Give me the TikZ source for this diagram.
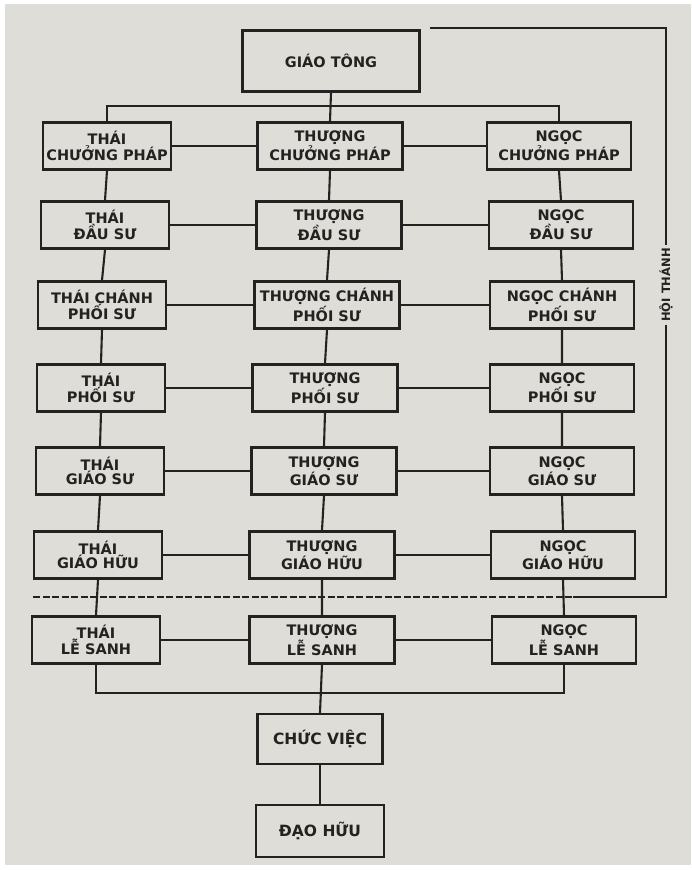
\documentclass[tikz,border=0pt]{standalone}
\usepackage{fontspec}
\setmainfont{DejaVu Sans}
\usetikzlibrary{positioning}
\definecolor{paper}{RGB}{223,221,216}
\definecolor{ink}{RGB}{36,34,32}

\begin{document}
\begin{tikzpicture}[x=1pt, y=-1pt,
      font=\fontsize{14.5}{13.5}\selectfont\bfseries,
      box/.style={draw=ink, text=ink, line width=2.4pt, align=center,
        inner sep=2pt, minimum height=47pt},
      thai/.style={box, minimum width=128pt},
      thuong/.style={box, minimum width=145pt},
      ngoc/.style={box, minimum width=144pt},
      big/.style={box, font=\fontsize{15.5}{16}\selectfont\bfseries},
      link/.style={draw=ink, line width=2.1pt},
      divider/.style={link, line width=1.8pt, dash pattern=on 7pt off 2.5pt}
    ]
    \fill[white] (0,0) rectangle (691,870);
    \fill[paper] (5,4) rectangle (691,865);
    \useasboundingbox (0,0) rectangle (691,870);

    \node[box, minimum width=177pt, minimum height=61pt,
      font=\fontsize{14.5}{16}\selectfont\bfseries] (gt) at (331,61) {GIÁO TÔNG};

    \node[thai] (t1) at (107,146) {THÁI\\CHƯỞNG PHÁP};
    \node[thai] (t2) at (105,225) {THÁI\\ĐẦU SƯ};
    \node[thai] (t3) at (102,305) {THÁI CHÁNH\\PHỐI SƯ};
    \node[thai] (t4) at (101,388) {THÁI\\PHỐI SƯ};
    \node[thai] (t5) at (100,471) {THÁI\\GIÁO SƯ};
    \node[thai] (t6) at (98,555)  {THÁI\\GIÁO HỮU};
    \node[thai] (t7) at (96,640)  {THÁI\\LỄ SANH};

    \node[thuong] (h1) at (330,146) {THƯỢNG\\CHƯỞNG PHÁP};
    \node[thuong] (h2) at (329,225) {THƯỢNG\\ĐẦU SƯ};
    \node[thuong] (h3) at (327,305) {THƯỢNG CHÁNH\\PHỐI SƯ};
    \node[thuong] (h4) at (325,388) {THƯỢNG\\PHỐI SƯ};
    \node[thuong] (h5) at (324,471) {THƯỢNG\\GIÁO SƯ};
    \node[thuong] (h6) at (322,555) {THƯỢNG\\GIÁO HỮU};
    \node[thuong] (h7) at (322,640) {THƯỢNG\\LỄ SANH};

    \node[ngoc] (n1) at (559,146) {NGỌC\\CHƯỞNG PHÁP};
    \node[ngoc] (n2) at (561,225) {NGỌC\\ĐẦU SƯ};
    \node[ngoc] (n3) at (562,305) {NGỌC CHÁNH\\PHỐI SƯ};
    \node[ngoc] (n4) at (562,388) {NGỌC\\PHỐI SƯ};
    \node[ngoc] (n5) at (562,471) {NGỌC\\GIÁO SƯ};
    \node[ngoc] (n6) at (563,555) {NGỌC\\GIÁO HỮU};
    \node[ngoc] (n7) at (564,640) {NGỌC\\LỄ SANH};

    \node[big, minimum width=125pt, minimum height=50pt] (cv) at (320,739) {CHỨC VIỆC};
    \node[big, minimum width=128pt, minimum height=52pt] (dh) at (320,831) {ĐẠO HỮU};

    \coordinate (busT) at (331,106);
    \draw[link] (t1.north) |- (busT) -| (n1.north);
    \draw[link] (gt.south) -- (h1.north);

    \draw[link] (t1.south) -- (t2.north) (t2.south) -- (t3.north) (t3.south) -- (t4.north)
      (t4.south) -- (t5.north) (t5.south) -- (t6.north) (t6.south) -- (t7.north);
    \draw[link] (h1.south) -- (h2.north) (h2.south) -- (h3.north) (h3.south) -- (h4.north)
      (h4.south) -- (h5.north) (h5.south) -- (h6.north) (h6.south) -- (h7.north);
    \draw[link] (n1.south) -- (n2.north) (n2.south) -- (n3.north) (n3.south) -- (n4.north)
      (n4.south) -- (n5.north) (n5.south) -- (n6.north) (n6.south) -- (n7.north);

    \draw[link] (t1.east) -- (h1.west) (h1.east) -- (n1.west);
    \draw[link] (t2.east) -- (h2.west) (h2.east) -- (n2.west);
    \draw[link] (t3.east) -- (h3.west) (h3.east) -- (n3.west);
    \draw[link] (t4.east) -- (h4.west) (h4.east) -- (n4.west);
    \draw[link] (t5.east) -- (h5.west) (h5.east) -- (n5.west);
    \draw[link] (t6.east) -- (h6.west) (h6.east) -- (n6.west);
    \draw[link] (t7.east) -- (h7.west) (h7.east) -- (n7.west);

    \coordinate (busB) at (322,693);
    \draw[link] (t7.south) |- (busB) -| (n7.south);
    \draw[link] (h7.south) -- (cv.north);
    \draw[link] (cv.south) -- (dh.north);

    \coordinate (divL) at (33,597);
    \coordinate (divR) at (573,597);
    \draw[divider] (divL) -- (divR);

    \node[rotate=90, text=ink, inner sep=3pt,
      font=\fontsize{11.5}{12}\selectfont\bfseries] (hoi) at (666,285) {HỘI THÁNH};
    \coordinate (brA) at (430,28);
    \coordinate (brB) at (666,28);
    \coordinate (brC) at (666,597);
    \draw[link, line width=1.9pt] (brA) -- (brB) -- (hoi.east);
    \draw[link, line width=1.9pt] (hoi.west) -- (brC) -- (divR);
  \end{tikzpicture}
\end{document}
